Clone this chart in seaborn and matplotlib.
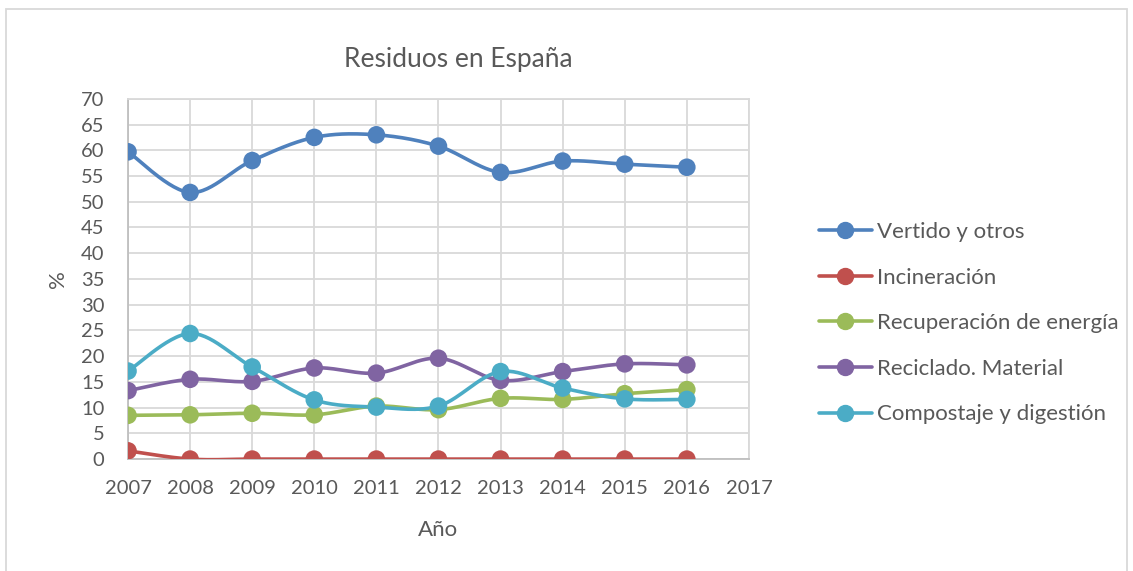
import numpy as np
import pandas as pd
import matplotlib
import matplotlib.pyplot as plt
import seaborn as sns
from matplotlib.lines import Line2D
from matplotlib.patches import Rectangle
matplotlib.use("Agg")

years = [2007, 2008, 2009, 2010, 2011, 2012, 2013, 2014, 2015, 2016]
vertido = [59.7, 51.8, 58.0, 62.5, 63.0, 60.8, 55.7, 57.9, 57.3, 56.7]
incineracion = [1.6, 0.0, 0.0, 0.0, 0.0, 0.0, 0.0, 0.0, 0.0, 0.0]
recuperacion = [8.5, 8.6, 8.9, 8.6, 10.3, 9.6, 11.8, 11.6, 12.7, 13.5]
reciclado = [13.3, 15.5, 15.1, 17.7, 16.7, 19.6, 15.3, 17.0, 18.5, 18.3]
compostaje = [17.1, 24.4, 17.9, 11.5, 10.1, 10.3, 17.0, 13.8, 11.7, 11.6]

series_names = ['Vertido y otros', 'Incineración', 'Recuperación de energía',
                'Reciclado. Material', 'Compostaje y digestión']
series_values = [vertido, incineracion, recuperacion, reciclado, compostaje]
colors = ['#4F81BD', '#C0504D', '#9BBB59', '#8064A2', '#4BACC6']


def smooth(x, y, steps=30):
    # Excel-style smoothed line: cubic bezier through the points
    x = np.asarray(x, float)
    y = np.asarray(y, float)
    px = np.concatenate([[x[0]], x, [x[-1]]])
    py = np.concatenate([[y[0]], y, [y[-1]]])
    t = np.linspace(0, 1, steps)[:, None]
    out_x, out_y = [], []
    for i in range(1, len(px) - 2):
        p0 = np.array([px[i], py[i]])
        p3 = np.array([px[i + 1], py[i + 1]])
        c1 = p0 + (p3 - np.array([px[i - 1], py[i - 1]])) / 6
        c2 = p3 - (np.array([px[i + 2], py[i + 2]]) - p0) / 6
        pts = ((1 - t) ** 3) * p0 + 3 * ((1 - t) ** 2) * t * c1 + 3 * (1 - t) * t ** 2 * c2 + t ** 3 * p3
        out_x.extend(pts[:, 0])
        out_y.extend(pts[:, 1])
    return out_x, out_y


points = pd.DataFrame({
    'Año': np.tile(years, len(series_names)),
    'valor': np.concatenate(series_values),
    'serie': np.repeat(series_names, len(years)),
})
curves = []
for name, vals in zip(series_names, series_values):
    cx, cy = smooth(years, vals)
    curves.append(pd.DataFrame({'x': cx, 'y': cy, 'serie': name}))
curves = pd.concat(curves, ignore_index=True)

sns.set_style('white')
plt.rcParams['font.family'] = ['Lato', 'DejaVu Sans']
text_color = '#595959'

fig = plt.figure(figsize=(11.33, 5.71), dpi=100)
ax = fig.add_axes([0.113, 0.196, 0.548, 0.631])
palette = dict(zip(series_names, colors))

sns.lineplot(data=curves, x='x', y='y', hue='serie', palette=palette, sort=False,
             estimator=None, linewidth=2.6, legend=False, ax=ax, zorder=3)
sns.scatterplot(data=points, x='Año', y='valor', hue='serie', palette=palette,
                s=160, linewidth=0, legend=False, ax=ax, zorder=4)

ax.set_xlim(2007, 2017)
ax.set_ylim(0, 70)
ax.set_xticks(range(2007, 2018))
ax.set_yticks(range(0, 71, 5))
ax.grid(True, color='#D9D9D9', linewidth=1.3)
ax.set_axisbelow(True)
for side in ['top', 'right']:
    ax.spines[side].set_color('#D9D9D9')
    ax.spines[side].set_linewidth(1.3)
for side in ['left', 'bottom']:
    ax.spines[side].set_color('#BFBFBF')
    ax.spines[side].set_linewidth(1.3)
ax.tick_params(axis='both', length=0, labelsize=14.5, colors=text_color)
ax.tick_params(axis='x', pad=15)
ax.tick_params(axis='y', pad=17)

ax.set_xlabel('Año', fontsize=16, color=text_color)
ax.xaxis.label.set_va('center')
ax.xaxis.set_label_coords(0.5, -0.197)
ax.set_ylabel('%', fontsize=16, color=text_color)
ax.yaxis.label.set_va('center')
ax.yaxis.set_label_coords(-0.113, 0.5)
fig.text(458 / 1133, 1 - 60 / 571, 'Residuos en España', fontsize=19,
         color=text_color, ha='center', va='center')

handles = [Line2D([0], [0], color=c, linewidth=2.6, marker='o', markersize=11.5) for c in colors]
leg = fig.legend(handles, series_names, loc='center left', bbox_to_anchor=(0.705, 0.434),
                 frameon=False, fontsize=16, labelspacing=1.15, handlelength=2.4,
                 handletextpad=0.22)
for t in leg.get_texts():
    t.set_color(text_color)

fig.patches.append(Rectangle((0.005, -0.1), 0.99, 1.084, transform=fig.transFigure,
                             fill=False, edgecolor='#D9D9D9', linewidth=1.3))

fig.savefig('out.png', dpi=100)
